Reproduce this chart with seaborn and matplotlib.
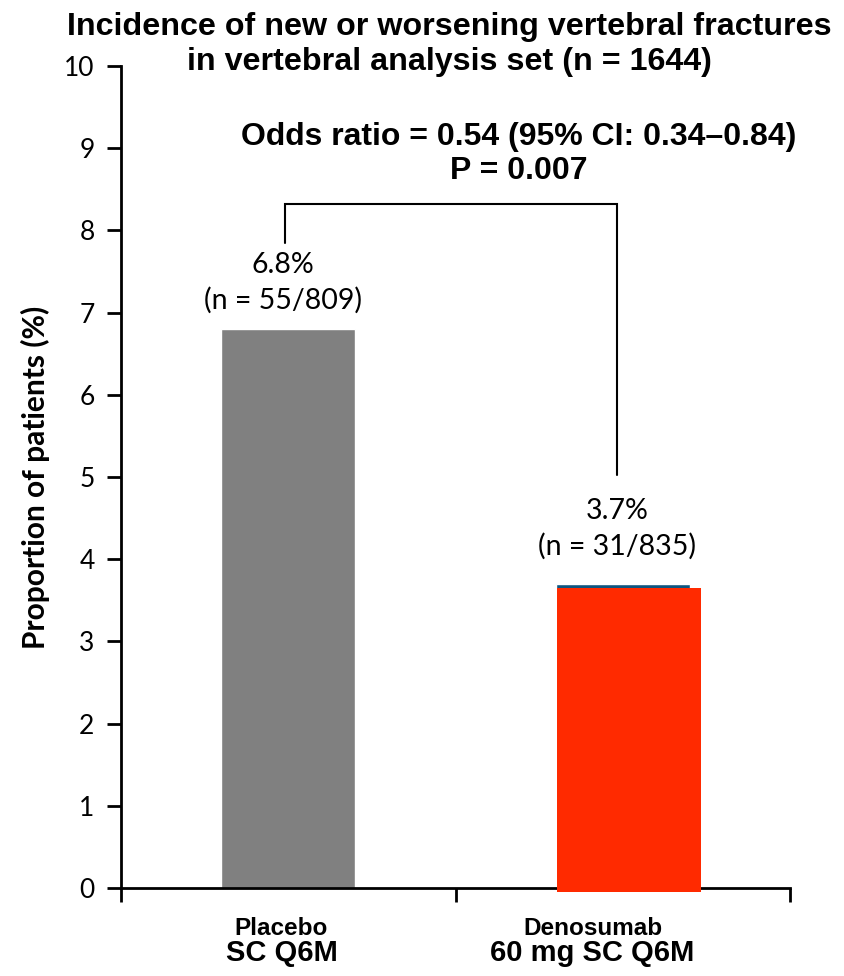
import matplotlib
matplotlib.use("Agg")
import matplotlib.pyplot as plt
import matplotlib.transforms as mtransforms
from matplotlib.patches import Rectangle
import seaborn as sns
import pandas as pd

# Data
categories = ["Placebo", "Denosumab"]
dose_lines = ["SC Q6M", "60 mg SC Q6M"]
values = [6.8, 3.7]
pct_labels = ["6.8%", "3.7%"]
n_labels = ["(n = 55/809)", "(n = 31/835)"]
yticks = list(range(0, 11))
title_lines = ["Incidence of new or worsening vertebral fractures",
               "in vertebral analysis set (n = 1644)"]
stat_lines = ["Odds ratio = 0.54 (95% CI: 0.34\u20130.84)", "P = 0.007"]
ylabel_text = "Proportion of patients (%)"

sns.set_theme(style="white")
plt.rcParams["font.family"] = ["Lato", "DejaVu Sans"]
for key in ["text.color", "axes.labelcolor", "xtick.color", "ytick.color"]:
    plt.rcParams[key] = "black"
arial = ["Liberation Sans", "DejaVu Sans"]

df = pd.DataFrame({"group": categories, "value": values})

fig = plt.figure(figsize=(8.44, 9.76), dpi=100)
ax = fig.add_axes([121 / 844, 1 - 888 / 976, (790 - 121) / 844, (888 - 66) / 976])

sns.barplot(data=df, x="group", y="value", hue="group",
            palette=["#808080", "#0E5580"], width=0.40, legend=False,
            saturation=1, ax=ax, zorder=2)

# red fill drawn slightly shifted over the denosumab bar
blue = ax.patches[1]
shift = mtransforms.ScaledTranslation(1 / 100, -4 / 100, fig.dpi_scale_trans)
red = Rectangle((blue.get_x(), 0), blue.get_width() + 0.03, blue.get_height(),
                facecolor="#FF2A00", edgecolor="none",
                transform=ax.transData + shift, clip_on=False, zorder=3)
ax.add_patch(red)

ax.set_xlim(-0.5, 1.5)
ax.set_ylim(0, 10)
ax.set_yticks(yticks)
ax.set_yticklabels([str(t) for t in yticks], fontsize=19)
ax.set_xticks([0, 1])
ax.set_xticklabels([])
ax.set_xticks([-0.5, 0.5, 1.5], minor=True)
ax.tick_params(axis="x", which="major", length=0)
ax.tick_params(axis="x", which="minor", direction="out", length=10, width=2, color="black", bottom=True)
ax.tick_params(axis="y", direction="out", length=10, width=2, color="black", left=True, pad=9)
ax.set_xlabel("")
ax.set_ylabel(ylabel_text, fontsize=21.5, fontweight="bold", labelpad=10)

for side in ["top", "right"]:
    ax.spines[side].set_visible(False)
for side in ["left", "bottom"]:
    ax.spines[side].set_color("black")
    ax.spines[side].set_linewidth(2)

# category labels below the axis
xt = mtransforms.blended_transform_factory(ax.transData, ax.transAxes)
label_shift = [-0.02, -0.09]
for i, (name, dose) in enumerate(zip(categories, dose_lines)):
    ax.text(i + label_shift[i], -0.049, name, transform=xt, ha="center", va="center",
            fontsize=17.5, fontweight="bold", family=arial)
    ax.text(i + label_shift[i], -0.079, dose, transform=xt, ha="center", va="center",
            fontsize=21, fontweight="bold", family=arial)

# value labels above bars
label_gap = [0.35, 0.46]
for i, v in enumerate(values):
    ax.text(i - 0.017, v + label_gap[i], n_labels[i], ha="center", va="center", fontsize=20.5)
    ax.text(i - 0.017, v + label_gap[i] + 0.43, pct_labels[i], ha="center", va="center", fontsize=20.5)

# comparison bracket
bx = [-0.01, -0.01, 0.983, 0.983]
by = [7.85, 8.32, 8.32, 5.02]
ax.plot(bx, by, color="black", lw=1.5, solid_joinstyle="miter", zorder=4)

for text, y in zip(stat_lines, [9.136, 8.72]):
    ax.text(0.69, y, text, ha="center", va="center", fontsize=23,
            fontweight="bold", family=arial)

for text, y in zip(title_lines, [27, 62]):
    fig.text(449 / 844, 1 - y / 976, text, ha="center", va="center", fontsize=23.2,
             fontweight="bold", family=arial)

fig.savefig("out.png", dpi=100)
